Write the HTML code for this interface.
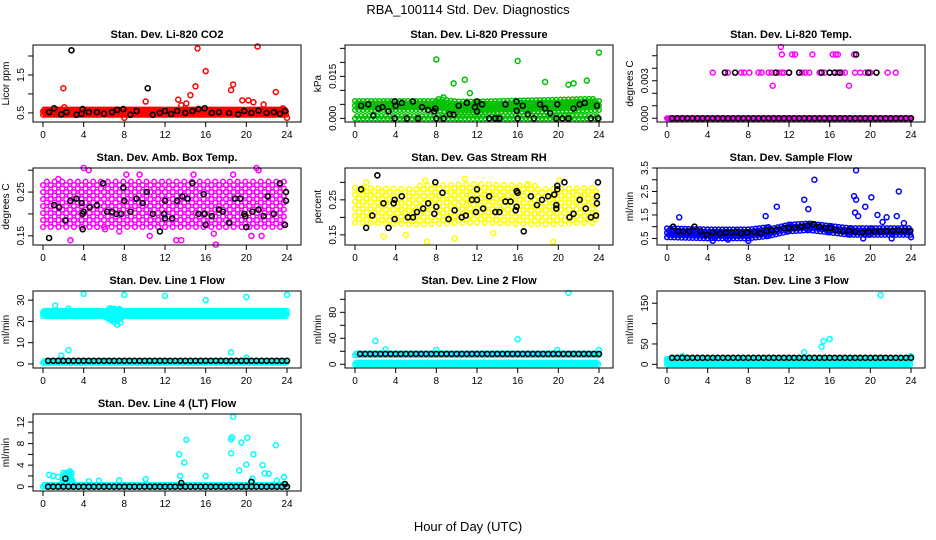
<!DOCTYPE html>
<html><head><meta charset="utf-8"><style>
html,body{margin:0;padding:0;background:#fff;}
svg{display:block;font-family:"Liberation Sans",sans-serif;}
</style></head><body>
<svg id="chart" width="936" height="540" viewBox="0 0 936 540">
<text x="468" y="14" text-anchor="middle" font-size="13">RBA_100114  Std. Dev. Diagnostics</text>
<text x="468" y="531" text-anchor="middle" font-size="13">Hour of Day (UTC)</text>
</svg>
<script>
const HALF = [0.5,1,1.5,2,2.5,3,3.5,4,4.5,5,5.5,6,6.5,7,7.5,8,8.5,9,9.5,10,10.5,11,11.5,12,12.5,13,13.5,14,14.5,15,15.5,16,16.5,17,17.5,18,18.5,19,19.5,20,20.5,21,21.5,22,22.5,23,23.5,24];
const xTicks = [0,4,8,12,16,20,24];

// Panel 1: CO2
const co2Bands = [{x:[0,4,8,12,16,20,24], lo:[0.45,0.45,0.45,0.45,0.45,0.45,0.45], hi:[0.62,0.62,0.6,0.6,0.62,0.62,0.62]}];
const co2OutX = [2,2.1,10.1,13.3,13.6,14.1,14.5,15,15.2,16,18.5,18.7,19.6,20.2,20.7,21.1,21.7,22.9,23.6,24,8];
const co2OutY = [1.15,0.65,0.8,0.85,0.7,0.75,0.97,1.2,2.2,1.6,1.1,1.25,0.83,0.83,0.78,2.25,0.72,1.05,0.62,0.37,0.37];
const co2BlkX = [2.8,10.3,1.1,0.6,1.8,2.3,3.3,3.9,3.8,4.5,5.3,6,6.8,7.3,7.9,8.6,9.2,10.8,11.5,12,12.6,13.2,14,14.7,15.3,15.9,16.6,17.3,18.3,19.2,19.8,20.5,21.2,22,22.7,23.3,23.8];
const co2BlkY = [2.15,1.15,0.62,0.52,0.46,0.52,0.45,0.6,0.48,0.52,0.52,0.48,0.52,0.58,0.6,0.45,0.55,0.45,0.5,0.55,0.47,0.55,0.5,0.55,0.6,0.62,0.5,0.52,0.5,0.46,0.55,0.5,0.56,0.5,0.52,0.48,0.55];

// Panel 2: Pressure
const prsBands = [{x:[0,8,10,12,24], lo:[0,0,0,0,0], hi:[0.0015,0.0015,0.0015,0.0015,0.0015]},{x:[0,8,10,12,24], lo:[0.003,0.003,0.002,0.002,0.003], hi:[0.007,0.007,0.0065,0.0065,0.007]}];
const prsOutX = [8,16,24,10.8,9.7,18.7,21,21.5,22.8,11.3,8.7];
const prsOutY = [0.021,0.0205,0.0235,0.0138,0.0125,0.013,0.012,0.0125,0.0135,0.009,0.0075];
const prsBlkX = [0.6,1.3,1.8,2.3,2.7,3.3,3.9,3.9,4,4.6,5.1,5.7,6.2,6.6,7.2,7.8,7.9,8,8.7,9.3,9.7,10.2,11,11.8,12,12,12.5,13.2,13.8,14.2,14.8,15.9,15.9,16,16.5,17,17.6,18.2,18.7,19.2,19.9,19.8,20.4,21,21.5,22.1,22.6,23.2,23.8,23.9];
const prsBlkY = [0.0045,0.005,0.001,0.0035,0.004,0.0025,0.006,0,0.0045,0.0055,0,0.006,0,0.004,0.003,0.0025,0.0035,0,0,0.0015,0.0013,0.0045,0.0055,0.004,0.006,0.0025,0.005,0,0,0,0.005,0.006,0.0027,0,0.0045,0.0015,0,0.005,0.0035,0.0018,0.005,0,0,0,0.0035,0.005,0.0055,0,0.0045,0];

// Panel 3: Li-820 Temp
const tmpBands = [{x:[0,24], lo:[0,0], hi:[0,0]}];
const tmpOutX = [4.5,6,7.3,7.6,8.1,9,9.3,10,10.3,11,11.3,11.5,12,13.3,13.6,14,15,15.5,16,16.5,16.8,17.2,17.5,18.5,19,19.5,20,21.7,22.5,11.3,12.3,12.6,14.3,16.3,16.6,16.8,18.4,11.2,10.4,17.9];
const tmpOutY = [0.00365,0.00365,0.00365,0.00365,0.00365,0.00365,0.00365,0.00365,0.00365,0.00365,0.00365,0.00365,0.00365,0.00365,0.00365,0.00365,0.00365,0.00365,0.00365,0.00365,0.00365,0.00365,0.00365,0.00365,0.00365,0.00365,0.00365,0.00365,0.00365,0.0051,0.0051,0.0051,0.0051,0.0051,0.0051,0.0051,0.0051,0.0057,0.0026,0.0026];
const tmpBlkX = HALF.concat([5.7,6.7,10.7,12,13,15.2,16,16.5,17,19.8,20.6,18.6]);
const tmpBlkY = HALF.map(()=>0).concat([0.00365,0.00365,0.00365,0.00365,0.00365,0.00365,0.00365,0.00365,0.00365,0.00365,0.00365,0.0051]);

// Panel 4: Amb Box Temp
const ambBands = [{x:[0,6,12,18,24], lo:[0.17,0.17,0.17,0.17,0.17], hi:[0.275,0.28,0.275,0.28,0.275]}];
const ambOutX = [4,4.5,2.7,6.1,7.5,10.5,13.1,13.6,17,16.8,21,21.2,20.5,21.5,8.2,9.5,14.8,18.7,1.5];
const ambOutY = [0.305,0.3,0.14,0.165,0.16,0.15,0.14,0.14,0.13,0.155,0.305,0.3,0.15,0.15,0.29,0.29,0.29,0.29,0.28];
const ambBlkX = [0.6,1.1,1.6,2.2,2.7,3.3,3.9,3.8,3.9,4,4.6,5.3,5.9,6.3,6.8,7.2,7.7,7.9,8,8.6,9.2,9.8,10.2,10.8,11.5,12,11.9,12,12.7,13.2,13.7,14.2,14.7,15.3,15.8,15.9,16,16.6,17.3,17.7,18.3,18.9,19.4,19.8,19.9,20,20.6,21.2,21.7,22.1,22.7,23.3,23.8,23.9,23.9];
const ambBlkY = [0.145,0.22,0.215,0.185,0.23,0.235,0.2,0.225,0.165,0.205,0.215,0.22,0.27,0.205,0.205,0.2,0.2,0.26,0.23,0.205,0.235,0.225,0.25,0.2,0.16,0.23,0.2,0.19,0.19,0.23,0.24,0.235,0.27,0.2,0.245,0.2,0.175,0.195,0.21,0.205,0.18,0.235,0.235,0.2,0.195,0.17,0.205,0.21,0.195,0.24,0.2,0.27,0.175,0.23,0.25];

// Panel 5: Gas Stream RH
const rhBands = [{x:[0,6,12,18,24], lo:[0.185,0.18,0.185,0.18,0.185], hi:[0.29,0.29,0.295,0.29,0.29]}];
const rhOutX = [7.1,19.5,10.8,20.1,2.8,5,9.8,13.6,6.9,0.8,1.1,17];
const rhOutY = [0.13,0.13,0.31,0.305,0.145,0.15,0.14,0.155,0.305,0.275,0.3,0.295];
const rhBlkX = [0.6,1.1,1.7,2.2,2.8,3.3,3.9,3.8,3.9,4.6,5.2,5.7,6.1,6.7,7.2,7.8,7.9,8,8.6,9.2,9.8,10.5,10.9,11.5,11.9,12,12,12.6,13.2,13.8,14.2,14.8,15.3,15.8,15.9,15.9,16,16.6,17.3,17.9,18.4,19,19.6,19.8,19.8,19.9,19.9,20.6,21.1,21.5,22.1,22.7,23.2,23.7,23.8,23.8,23.9];
const rhBlkY = [0.28,0.17,0.205,0.32,0.24,0.17,0.195,0.24,0.25,0.26,0.2,0.2,0.215,0.225,0.24,0.21,0.3,0.23,0.27,0.195,0.22,0.2,0.205,0.25,0.215,0.28,0.25,0.225,0.26,0.215,0.215,0.245,0.245,0.22,0.23,0.275,0.27,0.16,0.26,0.235,0.25,0.26,0.265,0.235,0.225,0.28,0.29,0.3,0.2,0.21,0.25,0.225,0.2,0.205,0.24,0.26,0.3];

// Panel 6: Sample Flow
const sfBands = [{x:[0,4,8,10,12,14,16,18,20,24], lo:[0.55,0.5,0.5,0.6,0.8,0.85,0.75,0.65,0.65,0.65], hi:[0.95,0.9,0.95,1.0,1.1,1.15,1.05,0.95,0.95,0.95]}];
const sfOutX = [1.2,4.5,6,8,9.7,10.8,13.5,13.9,14.5,18.4,18.5,18.6,18.6,18.8,19.5,20.1,20.7,21.2,21.6,22.6,22.8,23.3,24,19.3,22.1];
const sfOutY = [1.4,0.4,0.45,0.4,1.45,1.85,2.15,1.75,3.0,2.3,1.6,2.15,3.4,1.45,1.85,2.25,1.5,1.2,1.4,1.45,2.5,1.15,0.55,0.5,0.5];
const sfBlkX = [0.6,1.1,1.6,2.2,2.7,3.3,3.9,4.5,5.2,5.8,6.3,6.8,7.3,7.9,8.6,9.2,9.8,10.3,10.8,11.5,12,12.6,13.2,13.8,14.4,15,15.6,16.1,16.6,17.3,17.9,18.5,19.2,19.8,20.4,21,21.6,22.2,22.8,23.4,23.9];
const sfBlkY = [1.0,0.8,0.8,0.8,1.0,0.8,0.65,0.75,0.7,0.75,0.75,0.78,0.72,0.75,0.78,0.72,0.82,0.85,0.88,0.95,0.95,0.95,1.0,1.05,1.1,1.0,0.95,0.95,0.85,0.8,0.82,0.78,0.75,0.78,0.8,0.8,0.82,0.82,0.85,0.82,0.8];

// Panel 7: Line 1
const l1Bands = [{x:[0,6,6.5,7,7.5,8,24], lo:[22.5,22.5,21,19.5,21,22.5,22.5], hi:[25,25,26.5,27,26,25,25]},{x:[0,24], lo:[0.5,0.5], hi:[1.8,1.8]}];
const l1OutX = [1.2,2.5,4,8,12,16,20,24,2.5,1.8,18.5,20,7.3,7.6];
const l1OutY = [27.5,26,33,32.5,32,30,31.5,32.5,6.5,4,5.5,3,18.5,19.5];
const l1BlkX = HALF;
const l1BlkY = HALF.map(()=>1.5);

// Panel 8: Line 2
const l2Bands = [{x:[0,24], lo:[0,0], hi:[5,5]},{x:[0,24], lo:[14,14], hi:[17,17]}];
const l2OutX = [2,3,8,16,19.9,21,24];
const l2OutY = [36,23,22,38.5,22,110,22];
const l2BlkX = HALF;
const l2BlkY = HALF.map(()=>16);

// Panel 9: Line 3
const l3Bands = [{x:[0,24], lo:[0,0], hi:[12,12]},{x:[0,24], lo:[13,13], hi:[17,17]}];
const l3OutX = [21,13.5,15.2,15.4,16,1.5,24];
const l3OutY = [170,30,43,57,62,20,20];
const l3BlkX = HALF;
const l3BlkY = HALF.map(()=>16);

// Panel 10: Line 4
const l4Bands = [{x:[0,24], lo:[0,0], hi:[0.6,0.6]},{x:[1.8,2,2.8,3], lo:[0,0,0,0], hi:[0.5,2.8,3,0.5]}];
const l4OutX = [0.6,1,1.5,4.5,5.5,7.5,10.1,13.4,13.9,14.1,13.5,16,18.5,18.6,18.7,18.5,19.5,19.3,20.1,20,20.6,20.7,21.6,21.8,22.2,22.9,23.7,23];
const l4OutY = [2.2,2,1.8,1,1.1,1.2,1.4,6,4.5,8.7,2,2,8.8,9.2,13,6.2,8.2,3,9.1,4.1,1.5,6,4,2.5,2.4,7.7,1.8,1.1];
const l4BlkX = HALF.concat([2.2,13.6,20.5,23.8]);
const l4BlkY = HALF.map(()=>0).concat([1.5,0.7,0.9,0.5]);

const panels = [
 {name:'co2',title:'Stan. Dev. Li-820 CO2',ylab:'Licor ppm',col:'#ff0000',ylim:[0.26,2.29],ticks:[0.5,1,1.5,2],labels:['0.5','','1.5',''],bands:co2Bands,ox:co2OutX,oy:co2OutY,bx:co2BlkX,by:co2BlkY,dx:0.13,dy:3.5},
 {name:'pressure',title:'Stan. Dev. Li-820 Pressure',ylab:'kPa',col:'#00c000',ylim:[-0.0013,0.0262],ticks:[0,0.005,0.01,0.015,0.02,0.025],labels:['0.000','','','0.015','',''],bands:prsBands,ox:prsOutX,oy:prsOutY,bx:prsBlkX,by:prsBlkY,dx:0.2,dy:4.5},
 {name:'li820-temp',title:'Stan. Dev. Li-820 Temp.',ylab:'degrees C',col:'#ff00ff',ylim:[-0.0003,0.00586],ticks:[0,0.001,0.002,0.003,0.004,0.005],labels:['0.000','','','0.003','',''],bands:tmpBands,ox:tmpOutX,oy:tmpOutY,bx:tmpBlkX,by:tmpBlkY,dx:0.1,dy:3},
 {name:'amb-box-temp',title:'Stan. Dev. Amb. Box Temp.',ylab:'degrees C',col:'#ff00ff',ylim:[0.129,0.305],ticks:[0.15,0.2,0.25,0.3],labels:['0.15','','0.25',''],bands:ambBands,ox:ambOutX,oy:ambOutY,bx:ambBlkX,by:ambBlkY,dx:0.38,dy:7},
 {name:'gas-rh',title:'Stan. Dev. Gas Stream RH',ylab:'percent',col:'#ffff00',ylim:[0.121,0.341],ticks:[0.15,0.2,0.25,0.3],labels:['0.15','','0.25',''],bands:rhBands,ox:rhOutX,oy:rhOutY,bx:rhBlkX,by:rhBlkY,dx:0.38,dy:7},
 {name:'sample-flow',title:'Stan. Dev. Sample Flow',ylab:'ml/min',col:'#0000ff',ylim:[0.22,3.5],ticks:[0.5,1,1.5,2,2.5,3,3.5],labels:['0.5','','1.5','','2.5','','3.5'],bands:sfBands,ox:sfOutX,oy:sfOutY,bx:sfBlkX,by:sfBlkY,dx:0.18,dy:4.5},
 {name:'line1-flow',title:'Stan. Dev. Line 1 Flow',ylab:'ml/min',col:'#00ffff',ylim:[-1.9,34.3],ticks:[0,10,20,30],labels:['0','10','20','30'],bands:l1Bands,ox:l1OutX,oy:l1OutY,bx:l1BlkX,by:l1BlkY,dx:0.13,dy:3.5},
 {name:'line2-flow',title:'Stan. Dev. Line 2 Flow',ylab:'ml/min',col:'#00ffff',ylim:[-5.7,112.8],ticks:[0,20,40,60,80,100],labels:['0','','40','','80',''],bands:l2Bands,ox:l2OutX,oy:l2OutY,bx:l2BlkX,by:l2BlkY,dx:0.13,dy:3.5},
 {name:'line3-flow',title:'Stan. Dev. Line 3 Flow',ylab:'ml/min',col:'#00ffff',ylim:[-9,180],ticks:[0,50,100,150],labels:['0','50','','150'],bands:l3Bands,ox:l3OutX,oy:l3OutY,bx:l3BlkX,by:l3BlkY,dx:0.13,dy:3.5},
 {name:'line4-flow',title:'Stan. Dev. Line 4 (LT) Flow',ylab:'ml/min',col:'#00ffff',ylim:[-0.8,13.5],ticks:[0,2,4,6,8,10,12],labels:['0','','4','','8','','12'],bands:l4Bands,ox:l4OutX,oy:l4OutY,bx:l4BlkX,by:l4BlkY,dx:0.13,dy:3.5}
];

const NS='http://www.w3.org/2000/svg';
const svg=document.getElementById('chart');
function mk(tag,attrs,parent){const e=document.createElementNS(NS,tag);for(const k in attrs)e.setAttribute(k,attrs[k]);parent.appendChild(e);return e;}

panels.forEach((p,i)=>{
  const c=i%3, r=Math.floor(i/3);
  const L=33+312*c, R=301+312*c, T=45+123*r, B=122+123*r;
  const x0=43+312*c, pxh=244/24;
  const X=h=>x0+h*pxh;
  const Y=v=>B-(v-p.ylim[0])/(p.ylim[1]-p.ylim[0])*(B-T);
  const g=mk('g',{},svg);
  
  
  const t=mk('text',{x:(L+R)/2,y:T-7,'text-anchor':'middle','font-size':11,'font-weight':'bold'},g);
  t.textContent=p.title;
  
  
  const cg=mk('g',{fill:'none',stroke:p.col,'stroke-width':1.5},g);
  
  
  p.bands.forEach(b=>{
    for(let k=0;k<b.x.length-1;k++){
      const ha=b.x[k], hb=b.x[k+1];
      let col=0;
      for(let h=ha;h<hb+0.001;h+=p.dx){
        const f=(h-ha)/(hb-ha||1);
        const lo=b.lo[k]+(b.lo[k+1]-b.lo[k])*f, hi=b.hi[k]+(b.hi[k+1]-b.hi[k])*f;
        const yl=Y(lo), yh=Y(hi);
        const off=(col++%2)?p.dy/2:0;
        let drawn=false;
        for(let y=yl-off;y>=yh-0.01;y-=p.dy){
          const m=mk('circle',{cx:X(h).toFixed(1),cy:y.toFixed(1),r:2.3},cg);
          
          
          drawn=true;
        }
        if(!drawn){const m=mk('circle',{cx:X(h).toFixed(1),cy:yl.toFixed(1),r:2.3},cg);
          
          }
      }
    }
  });
  p.ox.forEach((h,k)=>{
    const m=mk('circle',{cx:X(h),cy:Y(p.oy[k]),r:2.5},cg);
    
    
  });
  const bg=mk('g',{fill:'none',stroke:'#000','stroke-width':1.6},g);
  
  
  p.bx.forEach((h,k)=>{
    const m=mk('circle',{cx:X(h),cy:Y(p.by[k]),r:2.5},bg);
    
    
  });
  const box=mk('rect',{x:L,y:T,width:R-L,height:B-T,fill:'none',stroke:'#000','stroke-width':1},g);
  
  
  xTicks.forEach(h=>{
    mk('line',{x1:X(h),x2:X(h),y1:B,y2:B+5,stroke:'#000'},g);
    const tl=mk('text',{x:X(h),y:B+16,'text-anchor':'middle','font-size':10},g);
    tl.textContent=h;
    
    
  });
  p.ticks.forEach((v,k)=>{
    const y=Y(v);
    mk('line',{x1:L-5,x2:L,y1:y,y2:y,stroke:'#000'},g);
    if(p.labels[k]){
      const tl=mk('text',{x:L-9,y:y,'text-anchor':'middle','font-size':10,transform:`rotate(-90 ${L-9} ${y})`},g);
      tl.textContent=p.labels[k];
      
      
    }
  });
  const yt=mk('text',{x:L-24,y:(T+B)/2,'text-anchor':'middle','font-size':10,transform:`rotate(-90 ${L-24} ${(T+B)/2})`},g);
  yt.textContent=p.ylab;
  
  
});
</script>
</body></html>
